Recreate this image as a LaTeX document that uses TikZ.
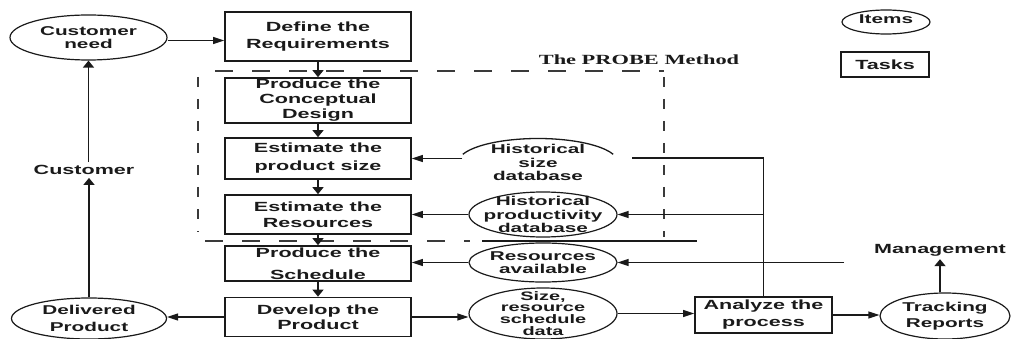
\documentclass[tikz,border=0pt]{standalone}
\usepackage{fontspec}
\usepackage{tikz}
\usetikzlibrary{arrows.meta,positioning,shapes.geometric}
\newfontfamily\arialx{Liberation Sans}[FakeStretch=1.62]
\newfontfamily\timesx{Liberation Serif}[FakeStretch=1.6]
\definecolor{ink}{HTML}{1A1A1A}
\definecolor{dashgray}{HTML}{3A3A3A}
\tikzset{
  task/.style={draw=ink, line width=1.7pt, minimum width=186pt, inner sep=0pt,
               align=center, text=ink,
               font=\arialx\bfseries\fontsize{13.3}{15}\selectfont},
  item/.style={ellipse, draw=ink, line width=1.2pt, inner xsep=-24pt, inner ysep=-8pt,
               align=center, text=ink,
               font=\arialx\bfseries\fontsize{12.8}{13.2}\selectfont},
  lbl/.style={font=\arialx\bfseries\fontsize{13.3}{14}\selectfont, text=ink, inner sep=3pt},
  harr/.style={-{Triangle[length=11pt,width=7pt]}, line width=1.3pt, draw=ink},
  varr/.style={-{Triangle[length=7pt,width=11pt]}, line width=1.3pt, draw=ink},
  plain/.style={line width=1.3pt, draw=ink},
  probe/.style={line width=1.2pt, draw=dashgray, dash pattern=on 18pt off 19pt},
  probev/.style={line width=1.2pt, draw=dashgray, dash pattern=on 10pt off 12pt}
}

\begin{document}
\begin{tikzpicture}[x=1pt, y=-1pt]
  \useasboundingbox (0,0) rectangle (1011,339);

  % tasks
  \node[task, minimum height=49pt] (req) at (318,36.5) {Define the\\[2pt]Requirements};
  \node[task, minimum height=45pt] (cdes) at (318,100.5) {Produce the\\Conceptual\\Design};
  \node[task, minimum height=41pt] (esz) at (318,158.5) {Estimate the\\[3pt]product size};
  \node[task, minimum height=39pt] (ers) at (318,214.5) {Estimate the\\[1pt]Resources};
  \node[task, minimum height=35pt] (sch) at (318,263.5) {Produce the\\[7pt]Schedule};
  \node[task, minimum height=39pt] (dev) at (318,317) {Develop the\\Product};
  \node[task, minimum width=137pt, minimum height=36pt] (anl) at (763.5,315) {Analyze the\\[2pt]process};
  \node[task, minimum width=88pt, minimum height=25pt] (tasks) at (885,64.5) {Tasks};

  % items
  \node[item, minimum width=157pt, minimum height=45pt] (cneed) at (88.5,37.5) {Customer\\need};
  \node[item, minimum width=155pt, minimum height=41pt] (dlv) at (89,318.5) {Delivered\\[3pt]Product};
  \node[item, draw=none, minimum width=150pt, minimum height=46pt] (hsz) at (538,162.5)
       {Historical\\size\\database};
  \node[item, minimum width=148pt, minimum height=45pt] (hprod) at (543,214.5)
       {Historical\\productivity\\database};
  \node[item, minimum width=148pt, minimum height=39pt] (res) at (543,262.5) {Resources\\available};
  \node[item, minimum width=148pt, minimum height=51pt,
        font=\arialx\bfseries\fontsize{12.3}{11.8}\selectfont] (sdat) at (543,313.5)
       {Size,\\resource\\schedule\\data};
  \node[item, minimum width=130pt, minimum height=46pt] (trk) at (945,316) {Tracking\\[3pt]Reports};
  \node[item, minimum width=88pt, minimum height=24pt] (items) at (886,22) {\raisebox{5pt}{Items}};

  % free labels
  \node[lbl] (cust) at (84,170) {Customer};
  \node[lbl] (mgmt) at (940,250) {Management};
  \node[font=\timesx\bfseries\fontsize{14}{15}\selectfont, text=ink] (probe) at (639,60) {The PROBE Method};

  \coordinate (hszR) at (632,158);
  \coordinate (mgin) at (844,262.5);

  % PROBE frame
  \draw[probe] (215,71) -- (664,71);
  \draw[probev] (664,77) -- (664,237);
  \draw[probev] (198,77) -- (198,232);
  \draw[probe] (205,241) -- (470,241);
  \draw[plain] (482,241) -- (697,241);

  % partly hidden size database
  \draw[plain] ([shift={(160:80pt and 24pt)}]hsz.center)
       arc[start angle=160, end angle=20, x radius=80pt, y radius=24pt];

  \draw[harr] ([yshift=-3pt]cneed.east) -- ([yshift=-3pt]cneed.east -| req.west);
  \foreach \a/\b in {req/cdes, cdes/esz, esz/ers, ers/sch, sch/dev}
    \draw[varr] (\a) -- (\b);
  \draw[harr] (hsz.west |- esz.east) -- (esz.east);
  \draw[plain] (hszR) -- (hszR -| anl.north) -- (anl.north);
  \draw[harr] (hprod.east -| anl.north) -- (hprod.east);
  \draw[harr] (mgin) -- (res.east);
  \draw[harr] (hprod.west) -- (hprod.west -| ers.east);
  \draw[harr] (res.west) -- (res.west -| sch.east);
  \draw[harr] (dev.west) -- (dev.west -| dlv.east);
  \draw[varr] (dlv.north) -- (dlv.north |- cust.south);
  \draw[varr] (cust.north -| cneed.south) -- (cneed.south);
  \draw[harr] (dev.east) -- (dev.east -| sdat.west);
  \draw[harr] (sdat.east) -- (sdat.east -| anl.west);
  \draw[harr] (anl.east) -- (anl.east -| trk.west);
  \draw[varr, line width=2pt] (mgmt.south |- trk.north) -- (mgmt.south);
\end{tikzpicture}
\end{document}
